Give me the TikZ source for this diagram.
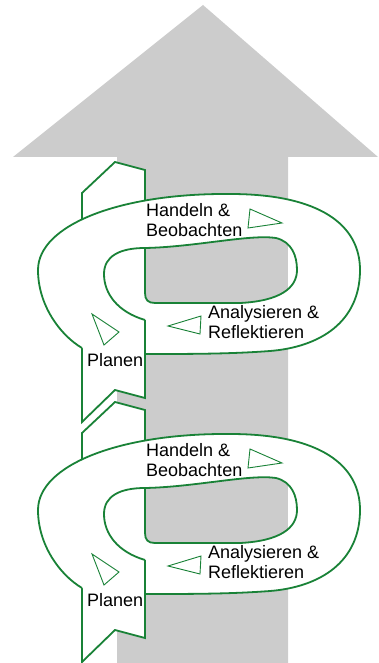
\documentclass[tikz,border=0pt]{standalone}
\usepackage{fontspec}
\setmainfont{Liberation Sans}
\definecolor{grn}{RGB}{25,130,55}
\definecolor{arrowgray}{RGB}{204,204,204}
\newcommand\myouterpath{(82,348) .. controls (60,335) and (38,305) .. (38,270) .. controls (38,225) and (120,193) .. (230,194) .. controls (320,194) and (360,225) .. (360,270) .. controls (360,322) and (320,347) .. (270,351) .. controls (230,354) and (190,354) .. (145,354)}
\newcommand\myholepath{(145,248) .. controls (195,247) and (250,234) .. (276,238) .. controls (292,242) and (297,256) .. (297,270) .. controls (297,288) and (280,301) .. (240,303) -- (155,303) .. controls (148,303) and (145,300) .. (145,293)}
\begin{document}
\begin{tikzpicture}[x=1pt,y=-1pt,
  ring/.style={draw=grn,line width=1.8pt,line join=miter},
  tri/.style={draw=grn,line width=0.9pt,line join=miter},
  lbl/.style={inner sep=0pt,anchor=north west,align=left,font=\fontsize{18}{20}\selectfont}]
\useasboundingbox (0,0) rectangle (378,663);
\fill[arrowgray] (203,5) -- (378,157) -- (288,157) -- (288,663) -- (117,663) -- (117,157) -- (13,157) -- cycle;
\foreach \dy/\i in {0/1,240/2} {
 \begin{scope}[shift={(0,\dy)}]
  % banner
  \fill[white] (82,422) -- (82,193) -- (115,162) -- (145,170) -- (145,398) -- (115,390) -- cycle;
  \draw[ring] (82,422) -- (82,193) -- (115,162) -- (145,170) -- (145,398) -- (115,390) -- cycle;
  % ring body
  \fill[white] \myouterpath -- cycle;
  \begin{scope}
   \clip \myholepath -- cycle;
   \fill[arrowgray] (117,0) rectangle (288,663);
  \end{scope}
  % ring outlines
  \draw[ring] \myouterpath;
  \draw[ring] (145,320) .. controls (118,312) and (104,294) .. (104,274) .. controls (104,256) and (120,248) .. \myholepath -- (145,248);
  \draw[ring] (145,320) -- (145,354);
  % direction triangles
  \draw[tri] (250,209) -- (282,223) -- (248,228) -- cycle;
  \draw[tri] (168,326) -- (201,316) -- (200,334) -- cycle;
  \draw[tri] (92,314) -- (119,332) -- (104,345) -- cycle;
  % labels
  \node[lbl] (h\i) at (146,203) {Handeln \&\\Beobachten};
  \node[lbl] (a\i) at (208,305) {Analysieren \&\\Reflektieren};
  \node[lbl] (p\i) at (87,353) {Planen};
 \end{scope}
}
\end{tikzpicture}
\end{document}
